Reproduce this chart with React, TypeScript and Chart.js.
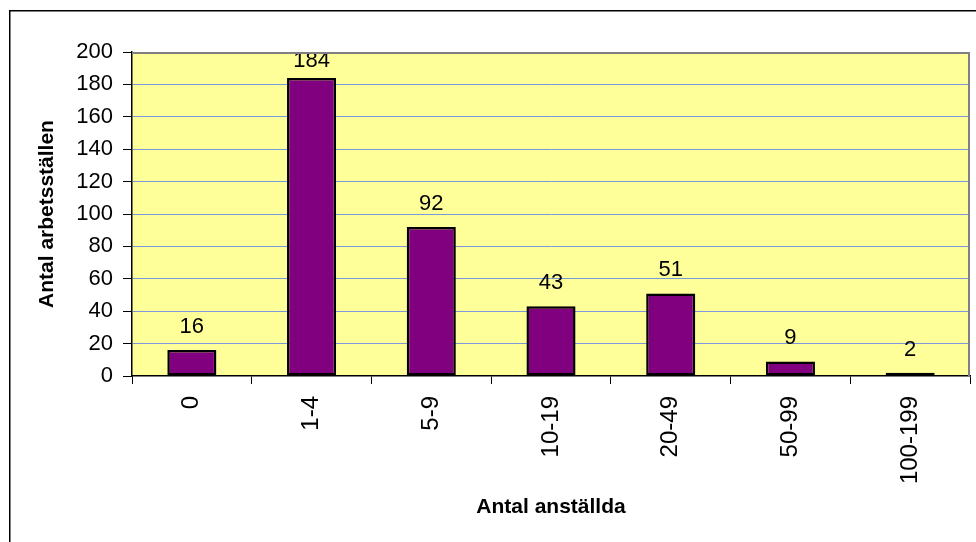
import React, { useEffect, useRef } from "react";
import { Chart, registerables } from "chart.js";

Chart.register(...registerables);

const categories = ["0", "1-4", "5-9", "10-19", "20-49", "50-99", "100-199"];
const counts = [16, 184, 92, 43, 51, 9, 2];
const yTicksMax = 200;
const yStep = 20;
const xTitle = "Antal anställda";
const yTitle = "Antal arbetsställen";

const FONT = "'Liberation Sans', Arial, sans-serif";

const bgPlugin = {
  id: "bgPlugin",
  beforeDraw(chart: any) {
    const { ctx, chartArea } = chart;
    ctx.save();
    ctx.fillStyle = "#ffffff";
    ctx.fillRect(0, 0, chart.width, chart.height);
    // outer frame (only left and top visible)
    ctx.strokeStyle = "#000000";
    ctx.lineWidth = 1.5;
    ctx.beginPath();
    ctx.moveTo(9.75, chart.height + 10);
    ctx.lineTo(9.75, 10.75);
    ctx.lineTo(chart.width + 10, 10.75);
    ctx.stroke();
    // plot area
    ctx.fillStyle = "#FFFF99";
    ctx.fillRect(chartArea.left, chartArea.top, chartArea.right - chartArea.left, chartArea.bottom - chartArea.top);
    ctx.restore();
  },
  afterDraw(chart: any) {
    const { ctx, chartArea } = chart;
    ctx.save();
    ctx.strokeStyle = "#808080";
    ctx.lineWidth = 2;
    ctx.beginPath();
    ctx.moveTo(chartArea.left, chartArea.top + 1);
    ctx.lineTo(chartArea.right - 1, chartArea.top + 1);
    ctx.lineTo(chartArea.right - 1, chartArea.bottom);
    ctx.stroke();
    ctx.restore();
  },
};

const labelPlugin = {
  id: "labelPlugin",
  afterDatasetsDraw(chart: any) {
    const { ctx, chartArea } = chart;
    const meta = chart.getDatasetMeta(0);
    const data = chart.data.datasets[0].data;
    ctx.save();
    ctx.fillStyle = "#000000";
    ctx.font = `22px ${FONT}`;
    ctx.textAlign = "center";
    ctx.textBaseline = "alphabetic";
    meta.data.forEach((bar: any, i: number) => {
      const y = Math.max(bar.y - 17, chartArea.top + 15);
      ctx.fillText(String(data[i]), bar.x, y);
    });
    ctx.restore();
  },
};

export default function App() {
  const ref = useRef<HTMLCanvasElement>(null);
  useEffect(() => {
    if (!ref.current) return;
    const chart = new Chart(ref.current, {
      type: "bar",
      data: {
        labels: categories,
        datasets: [
          {
            data: counts,
            backgroundColor: "#800080",
            borderColor: "#000000",
            borderWidth: 2.5,
            borderSkipped: false,
            categoryPercentage: 1,
            barPercentage: 0.41,
          },
        ],
      },
      options: {
        responsive: false,
        animation: false,
        layout: { padding: { top: 52, right: 6, left: 0, bottom: 0 } },
        plugins: { legend: { display: false }, tooltip: { enabled: false } },
        scales: {
          x: {
            afterFit(scale: any) {
              scale.height = 166;
            },
            grid: {
              drawOnChartArea: false,
              drawTicks: true,
              tickLength: 8,
              tickColor: "#000000",
              color: "#000000",
            },
            border: { display: true, color: "#000000", width: 1.5 },
            ticks: {
              minRotation: 90,
              maxRotation: 90,
              padding: 12,
              color: "#000000",
              font: { family: FONT, size: 24 },
              autoSkip: false,
            },
            title: {
              display: true,
              text: xTitle,
              color: "#000000",
              font: { family: FONT, size: 21, weight: "bold" },
              padding: { top: 0, bottom: 22 },
            },
          },
          y: {
            min: 0,
            max: yTicksMax,
            afterFit(scale: any) {
              scale.width = 132;
            },
            grid: {
              color: (c: any) =>
                c.tick && (c.tick.value === 0 || c.tick.value === yTicksMax) ? "rgba(0,0,0,0)" : "#7B98DA",
              lineWidth: 1,
              drawTicks: true,
              tickLength: 9,
              tickColor: "#000000",
            },
            border: { display: true, color: "#000000", width: 1.5 },
            ticks: {
              stepSize: yStep,
              padding: 10,
              color: "#000000",
              font: { family: FONT, size: 22 },
            },
            title: {
              display: true,
              text: yTitle,
              color: "#000000",
              font: { family: FONT, size: 21, weight: "bold" },
              padding: { top: 35, bottom: 0 },
            },
          },
        },
      },
      plugins: [bgPlugin, labelPlugin],
    } as any);
    return () => chart.destroy();
  }, []);
  return (
    <div style={{ position: "absolute", left: 0, top: 0, width: 976, height: 542 }}>
      <canvas ref={ref} width={976} height={542} style={{ display: "block" }} />
    </div>
  );
}
